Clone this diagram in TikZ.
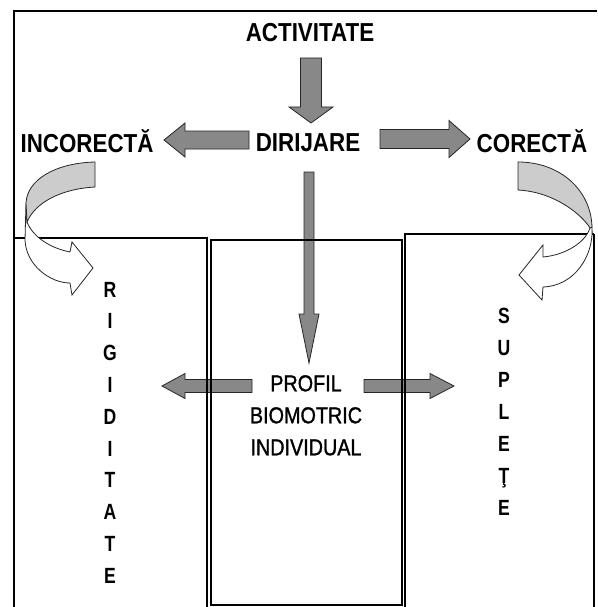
\documentclass[tikz,border=0pt]{standalone}
\usepackage{fontspec}
\setmainfont{Liberation Sans}
\newfontfamily\narrowsans[FakeStretch=0.86]{Liberation Sans}
\newfontfamily\letterfont[FakeStretch=0.8]{Liberation Sans}
\newfontfamily\profilfont[FakeStretch=0.86,FakeBold=1.2]{Liberation Sans}
\usepackage{tikz}
\usetikzlibrary{calc}
\usetikzlibrary{positioning}
\definecolor{arrowgray}{RGB}{136,136,136}
\definecolor{bandgray}{RGB}{204,204,204}
\tikzset{
  title/.style={inner sep=0,anchor=base,font=\narrowsans\bfseries\fontsize{26}{30}\selectfont},
  letter/.style={inner sep=0,anchor=base,font=\letterfont\bfseries\fontsize{22}{26}\selectfont},
  profil/.style={inner sep=0,anchor=north,align=center,font=\profilfont\fontsize{23}{32}\selectfont},
  arrowfill/.style={draw=black!85,fill=arrowgray,line width=0.8pt},
  bandline/.style={draw=black!85,line width=0.8pt},
  frame/.style={line width=2.5pt},
  boxline/.style={line width=1.1pt}
}
% from, to, half shaft, half head, head length
\newcommand{\blockarrow}[5]{%
  \coordinate (hb) at ($(#2)!#5!(#1)$);
  \draw[arrowfill] ($(#1)!#3!90:(#2)$) -- ($(hb)!#3!90:(#2)$) -- ($(hb)!#4!90:(#2)$) -- (#2)
    -- ($(hb)!#4!-90:(#2)$) -- ($(hb)!#3!-90:(#2)$) -- ($(#1)!#3!-90:(#2)$) -- cycle;
}

\begin{document}
\begin{tikzpicture}[x=1pt,y=-1pt]
	\useasboundingbox (0,0) rectangle (597,607);
	\coordinate (actS) at (311,58);
	\coordinate (dirN) at (311,123);
	\coordinate (dirW) at (249,140);
	\coordinate (incE) at (164,140);
	\coordinate (dirE) at (380,139);
	\coordinate (corW) at (470,139);
	\coordinate (dirS) at (309,172);
	\coordinate (profN) at (309,363);
	\coordinate (profW) at (252,386);
	\coordinate (rigE) at (162,386);
	\coordinate (profE) at (364,386);
	\coordinate (supW) at (454,386);

	\blockarrow{actS}{dirN}{10.5pt}{22pt}{16pt}
	\blockarrow{dirW}{incE}{9pt}{17pt}{21pt}
	\blockarrow{dirE}{corW}{9.5pt}{18.5pt}{21pt}
	\blockarrow{dirS}{profN}{5pt}{10pt}{49pt}
	\blockarrow{profW}{rigE}{6.5pt}{12.5pt}{23pt}
	\blockarrow{profE}{supW}{6.5pt}{12.5pt}{24pt}

	\draw[frame] (597,11) -- (14,11) -- (14,607);
	\draw[boxline] (14,238) -- (207,238) -- (207,607);
	\draw[boxline] (211,240) rectangle (402,605);
	\draw[boxline] (405,607) -- (405,234) -- (594,234);
	\draw[line width=1.8pt] (594,234) -- (594,607);

	\draw[bandline,fill=white] (26,203) -- (25,240) .. controls (26,265) and (50,283) .. (70,283)
		-- (72,295) -- (93,268) -- (72,242) -- (70,252) .. controls (50,248) and (33,237) .. (27,222) -- cycle;
	\draw[bandline,fill=bandgray] (95,162) .. controls (55,163) and (27,180) .. (26,203)
		-- (27,222) .. controls (35,203) and (60,189) .. (95,187) -- cycle;
	\draw[bandline,fill=white] (592,227) .. controls (594,255) and (575,286) .. (543,287)
		-- (542,300) -- (519,275) -- (543,245) -- (543,257) .. controls (565,255) and (585,243) .. (590,228) -- cycle;
	\draw[bandline,fill=bandgray] (518,162) .. controls (560,162) and (591,190) .. (592,227)
		-- (590,228) .. controls (582,215) and (555,192) .. (518,190) -- cycle;

	\node[title] (act) at (310,42) {ACTIVITATE};
	\node[title] (dir) at (308,151) {DIRIJARE};
	\node[title] (inc) at (87,152) {INCORECTĂ};
	\node[title] (cor) at (532,152) {CORECTĂ};
	\node[profil] (prof) at (306,375) {PROFIL\\BIOMOTRIC\\INDIVIDUAL};
	\foreach \l [count=\i from 0] in {R,I,G,I,D,I,T,A,T,E}
		\node[letter] (rig\i) at (110,{297+31.8*\i}) {\l};
	\foreach \l [count=\i from 0] in {S,U,P,L,E,Ţ,E}
		\node[letter] (sup\i) at (504,{323.5+32*\i}) {\l};
\end{tikzpicture}
\end{document}
